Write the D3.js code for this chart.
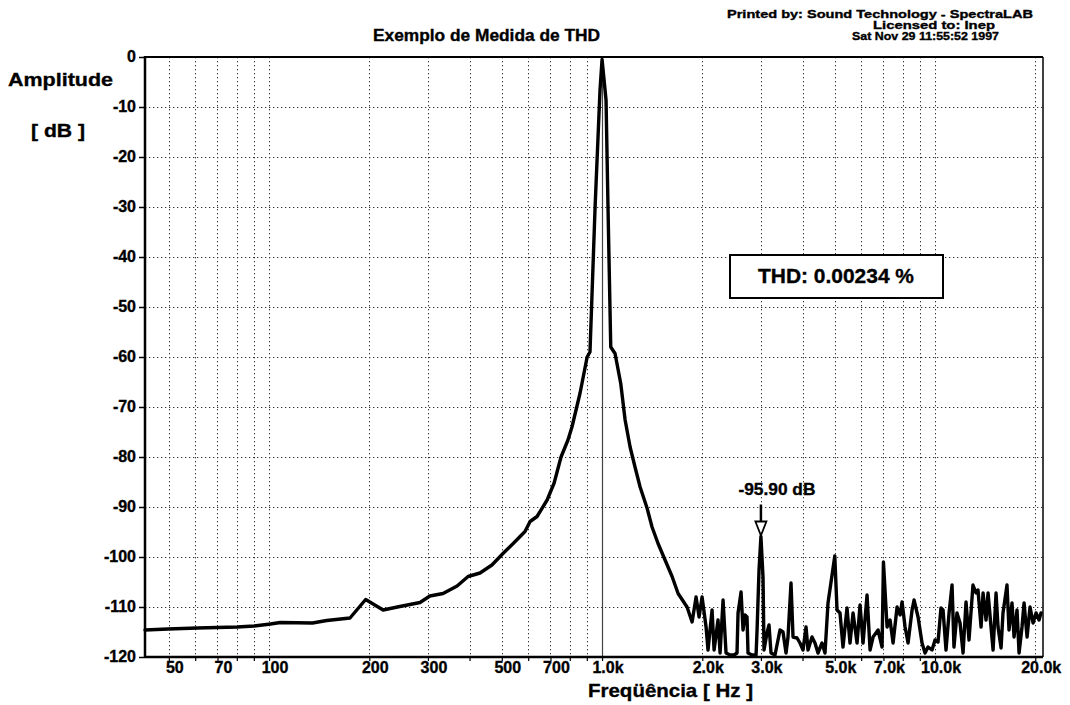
<!DOCTYPE html>
<html>
<head>
<meta charset="utf-8">
<title>Exemplo de Medida de THD</title>
<script src="https://cdn.jsdelivr.net/npm/d3@7"></script>
<style>
  html, body { margin: 0; padding: 0; background: #fff; }
  svg { display: block; font-family: "Liberation Sans", Arial, Helvetica, sans-serif; font-weight: bold; }
  svg text { fill: #000; stroke: #000; stroke-width: 0.35px; }
</style>
</head>
<body>
<svg id="chart" width="1070" height="705"></svg>
<script>
// Spectrum of a 1 kHz test tone (frequency in Hz, level in dB)
const freqHz = [
  42.4, 49.7, 60.8, 80.2, 90.2, 101, 108, 135, 149, 175, 195, 220, 247, 284, 304, 333, 367, 396, 430, 467,
  504, 541, 587, 608, 638, 684, 718, 753, 790, 813, 859, 902, 920, 953, 986, 1000, 1028, 1042, 1062, 1094,
  1138, 1173, 1214, 1256, 1301, 1365, 1413, 1473, 1546, 1623, 1692, 1800, 1864, 1916, 1956, 1997, 2053, 2081, 2140, 2170,
  2230, 2262, 2309, 2357, 2424, 2491, 2543, 2561, 2615, 2651, 2688, 2725, 2744, 2821, 2901, 2921, 2961, 3000, 3044, 3065,
  3129, 3173, 3217, 3307, 3423, 3495, 3569, 3618, 3694, 3746, 3851, 3931, 4014, 4098, 4155, 4271, 4360, 4452, 4577, 4673,
  4771, 5000, 5078, 5184, 5292, 5441, 5555, 5673, 5832, 5954, 6079, 6250, 6381, 6515, 6744, 6933, 7000, 7178, 7328, 7482,
  7692, 7853, 7962, 8129, 8299, 8532, 8650, 8893, 9141, 9333, 9528, 9795, 10000, 10210, 10420, 10570, 10790, 11020, 11250, 11400,
  11640, 11890, 12140, 12390, 12650, 13000, 13280, 13460, 13750, 13940, 14230, 14430, 14730, 14940, 15250, 15460, 15790, 16000, 16450, 16680,
  17030, 17270, 17630, 17880, 18250, 18510, 18900, 19290, 19700, 20110, 20530, 20810
];
const levelDb = [
  -114.6, -114.4, -114.2, -114.0, -113.8, -113.4, -113.1, -113.2, -112.7, -112.2, -108.5, -110.6, -109.9, -109.1, -107.8, -107.3, -105.8, -103.9, -103.2, -101.6,
  -99.3, -97.3, -94.9, -92.9, -91.9, -88.6, -85.2, -80.0, -76.6, -73.9, -67.2, -60.0, -59.0, -30.0, -6.6, -0.5, -8.6, -30.0, -58.0, -59.3,
  -65.3, -72.6, -78.0, -82.0, -86.0, -90.2, -94.0, -97.3, -100.6, -103.9, -107.3, -110.0, -113.0, -108.0, -112.0, -108.0, -114.0, -118.6, -110.6, -118.6,
  -112.6, -119.2, -108.6, -119.2, -119.6, -119.6, -119.2, -111.2, -107.0, -114.6, -111.6, -112.0, -119.2, -119.6, -119.6, -114.6, -102.6, -95.9, -104.0, -118.6,
  -115.2, -113.6, -119.2, -119.6, -114.6, -115.0, -119.2, -116.0, -105.2, -116.0, -116.2, -117.2, -118.6, -114.0, -118.6, -116.0, -117.2, -119.2, -117.2, -119.2,
  -109.2, -99.8, -110.6, -111.2, -118.0, -110.2, -117.2, -111.2, -117.2, -109.6, -117.2, -107.6, -118.6, -116.0, -114.6, -118.0, -101.0, -114.0, -112.6, -117.2,
  -110.0, -111.6, -109.0, -114.0, -117.2, -110.6, -108.6, -112.0, -117.2, -119.2, -118.0, -118.6, -116.6, -117.0, -110.2, -110.6, -118.6, -111.2, -105.6, -118.0,
  -111.2, -113.2, -119.2, -109.0, -116.6, -105.6, -107.2, -106.6, -114.0, -107.2, -112.6, -107.2, -114.0, -118.6, -107.2, -114.0, -118.2, -111.2, -105.6, -114.6,
  -109.2, -116.0, -110.6, -119.2, -114.0, -109.2, -116.0, -110.0, -113.2, -111.2, -112.6, -111.2
];

// Axis ticks and grid
const yTickDb = [0, -10, -20, -30, -40, -50, -60, -70, -80, -90, -100, -110, -120];
const xGridHz = [50, 60, 70, 80, 90, 100, 200, 300, 400, 500, 600, 700, 800, 900,
                 2000, 3000, 4000, 5000, 6000, 7000, 8000, 9000, 10000, 20000];
const xTickHz = [50, 70, 100, 200, 300, 500, 700, 1000, 2000, 3000, 5000, 7000, 10000, 20000];
const xTickText = ["50", "70", "100", "200", "300", "500", "700", "1.0k", "2.0k", "3.0k", "5.0k", "7.0k", "10.0k", "20.0k"];
const fundamentalHz = 1000;

// Harmonic marker and THD readout
const markerHz = 3000;
const markerDb = -95.9;
const markerText = "-95.90 dB";
const thdText = "THD: 0.00234 %";

(function draw() {
  const svg = d3.select("#chart");
  const pL = 145, pR = 1043, pT = 57, pB = 657;

  const x = d3.scaleLog().domain([42.4, 21100]).range([pL, pR]);
  const y = d3.scaleLinear().domain([-120, 0]).range([pB, pT]);

  // Dotted grid
  const grid = svg.append("g").attr("stroke", "#000").attr("stroke-width", 1)
    .attr("stroke-dasharray", "1.3,2.7").attr("opacity", 0.8);
  grid.selectAll("line.h").data(yTickDb.filter(d => d !== 0 && d !== -120)).join("line")
    .attr("class", "h").attr("x1", pL).attr("x2", pR)
    .attr("y1", d => y(d) + 0.5).attr("y2", d => y(d) + 0.5);
  grid.selectAll("line.v").data(xGridHz).join("line")
    .attr("class", "v").attr("y1", pT).attr("y2", pB)
    .attr("x1", d => Math.round(x(d)) + 0.5).attr("x2", d => Math.round(x(d)) + 0.5);

  // Solid reference line at the fundamental
  const fx = Math.round(x(fundamentalHz)) + 0.5;
  svg.append("line").attr("x1", fx).attr("x2", fx).attr("y1", pT).attr("y2", pB)
    .attr("stroke", "#444").attr("stroke-width", 1.2);

  // Y axis (plain hyphen for negative values)
  const yAxis = d3.axisLeft(y).tickValues(yTickDb).tickSize(6).tickPadding(3).tickFormat(d => String(d));
  const gy = svg.append("g").attr("transform", `translate(${pL},0)`).call(yAxis);
  gy.select(".domain").remove();
  gy.selectAll(".tick line").attr("stroke", "#000").attr("stroke-width", 1.5);
  gy.selectAll(".tick text").attr("font-size", 16).attr("font-weight", "bold")
    .attr("font-family", "'Liberation Sans', Arial, sans-serif").attr("dy", "0.3em");

  // X axis ticks and labels
  const xAxis = d3.axisBottom(x).tickValues(xGridHz.concat([fundamentalHz])).tickSize(4).tickFormat("");
  const gx = svg.append("g").attr("transform", `translate(0,${pB})`).call(xAxis);
  gx.select(".domain").remove();
  gx.selectAll(".tick line").attr("stroke", "#000").attr("stroke-width", 1.2);

  svg.append("g").selectAll("text").data(xTickHz).join("text")
    .attr("x", d => x(d) + 6).attr("y", 673)
    .attr("text-anchor", "middle").attr("font-size", 16)
    .text((d, i) => xTickText[i]);

  // Spectrum trace
  const trace = d3.line().x(d => x(d[0])).y(d => y(d[1]));
  svg.append("path")
    .datum(freqHz.map((f, i) => [f, levelDb[i]]))
    .attr("d", trace)
    .attr("fill", "none").attr("stroke", "#000").attr("stroke-width", 3.4)
    .attr("stroke-linejoin", "round").attr("stroke-linecap", "round");

  // Plot frame
  svg.append("line").attr("x1", pL).attr("x2", pR).attr("y1", pT).attr("y2", pT)
    .attr("stroke", "#000").attr("stroke-width", 2);
  svg.append("line").attr("x1", pR).attr("x2", pR).attr("y1", pT).attr("y2", pB)
    .attr("stroke", "#000").attr("stroke-width", 1.5);
  svg.append("line").attr("x1", pL).attr("x2", pR).attr("y1", pB).attr("y2", pB)
    .attr("stroke", "#000").attr("stroke-width", 2.5);
  svg.append("line").attr("x1", pL).attr("x2", pL).attr("y1", pT - 1).attr("y2", pB + 1)
    .attr("stroke", "#000").attr("stroke-width", 2.5);

  // Harmonic marker: label, stem and hollow arrowhead
  const mx = x(markerHz), my = y(markerDb);
  svg.append("text").attr("x", mx + 16).attr("y", my - 41.5)
    .attr("text-anchor", "middle").attr("font-size", 16)
    .attr("textLength", 77).attr("lengthAdjust", "spacingAndGlyphs")
    .text(markerText);
  svg.append("line").attr("x1", mx).attr("x2", mx).attr("y1", my - 32).attr("y2", my - 15)
    .attr("stroke", "#000").attr("stroke-width", 2.5);
  svg.append("path")
    .attr("d", `M${mx - 5.5},${my - 15} L${mx + 5.5},${my - 15} L${mx},${my - 1} Z`)
    .attr("fill", "#fff").attr("stroke", "#000").attr("stroke-width", 1.8);

  // THD readout box
  const box = svg.append("g");
  box.append("rect").attr("x", 730).attr("y", 255).attr("width", 213).attr("height", 43)
    .attr("fill", "#fff").attr("stroke", "#000").attr("stroke-width", 2);
  box.append("text").attr("x", 836).attr("y", 283).attr("text-anchor", "middle")
    .attr("font-size", 20)
    .attr("textLength", 156).attr("lengthAdjust", "spacingAndGlyphs")
    .text(thdText);

  // Titles and axis labels
  svg.append("text").attr("x", 373).attr("y", 41).attr("font-size", 16)
    .attr("textLength", 227).attr("lengthAdjust", "spacingAndGlyphs")
    .text("Exemplo de Medida de THD");
  svg.append("text").attr("x", 8).attr("y", 86).attr("font-size", 19)
    .attr("textLength", 105).attr("lengthAdjust", "spacingAndGlyphs")
    .text("Amplitude");
  svg.append("text").attr("x", 31).attr("y", 137).attr("font-size", 19)
    .attr("textLength", 54).attr("lengthAdjust", "spacingAndGlyphs")
    .text("[ dB ]");
  svg.append("text").attr("x", 588).attr("y", 697).attr("font-size", 19)
    .attr("textLength", 165).attr("lengthAdjust", "spacingAndGlyphs")
    .text("Freqüência [ Hz ]");

  // Print header
  const header = [
    { t: "Printed by: Sound Technology - SpectraLAB", x: 727, y: 18, w: 306 },
    { t: "Licensed to: Inep", x: 873, y: 29, w: 122 },
    { t: "Sat Nov 29 11:55:52 1997", x: 852, y: 40, w: 147 }
  ];
  svg.append("g").selectAll("text").data(header).join("text")
    .attr("x", d => d.x).attr("y", d => d.y).attr("font-size", 11)
    .attr("textLength", d => d.w).attr("lengthAdjust", "spacingAndGlyphs")
    .text(d => d.t);
})();
</script>
</body>
</html>
